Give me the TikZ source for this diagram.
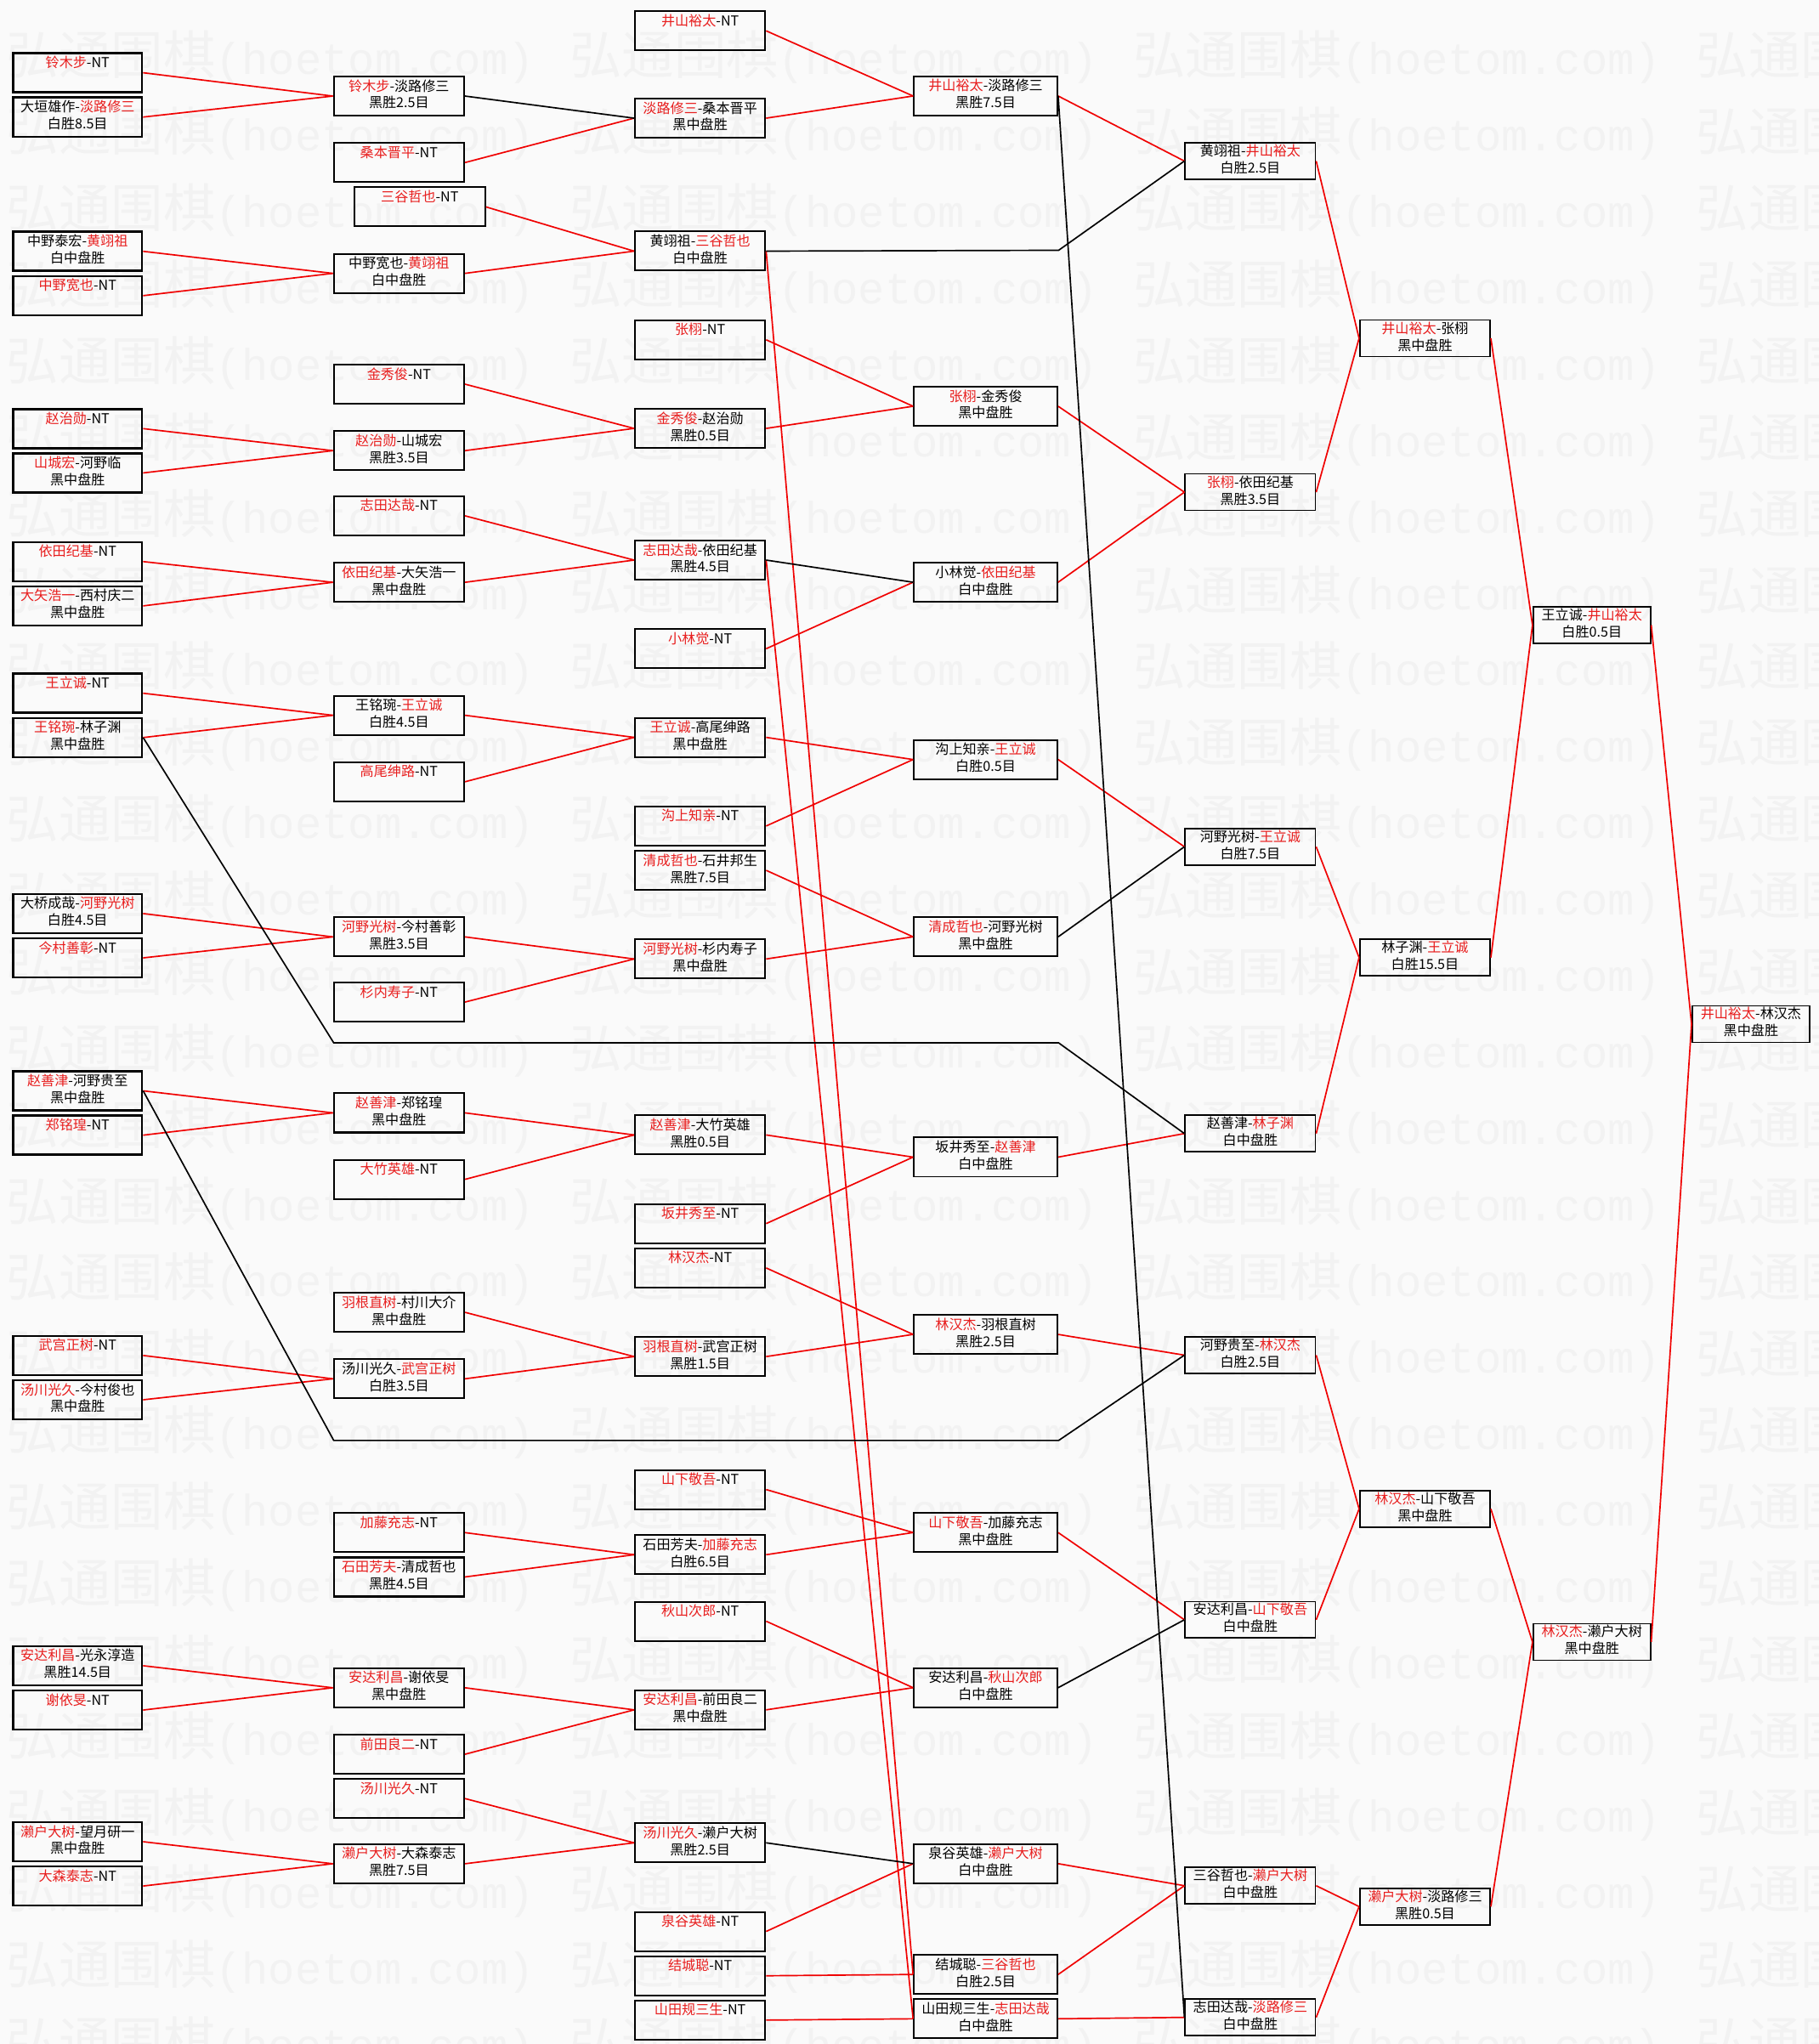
\documentclass[tikz,border=0pt]{standalone}
\usepackage{fontspec}
\setmainfont{Noto Sans CJK SC}
\newfontfamily\wmlatin{Liberation Mono}
\definecolor{bgc}{RGB}{250,250,250}
\definecolor{wred}{RGB}{232,30,30}
\definecolor{lred}{RGB}{240,0,0}
\definecolor{wmark}{RGB}{242,242,242}
\newcommand{\rn}[1]{\textcolor{wred}{#1}}
\newcommand{\tl}[2]{#1\strut\\#2\strut}
\tikzset{
  box/.style={draw, line width=1.2pt, inner sep=0pt, align=center, anchor=north,
    minimum height=30pt, font=\fontsize{10.5}{13}\selectfont},
  wa/.style={box, minimum width=99pt, line width=1.6pt},
  wb/.style={box, minimum width=100pt, line width=1.4pt},
  wc/.style={box, minimum width=100pt, line width=1.3pt},
  wd/.style={box, minimum width=110pt, line width=1.3pt},
  we/.style={box, minimum width=100pt, minimum height=28pt, line width=1.1pt},
  wg/.style={box, minimum width=90pt, minimum height=28pt, line width=1.1pt},
  rl/.style={draw=lred, line width=1.1pt},
  bl/.style={draw=black, line width=1.1pt},
  wm/.style={anchor=west, text=wmark, inner sep=0pt, font=\fontsize{40}{40}\selectfont}
}
\begin{document}
\begin{tikzpicture}[x=1pt,y=-1pt]
\fill[bgc] (0,0) rectangle (1395,1568);
\useasboundingbox (0,0) rectangle (1395,1568);
% watermark
\foreach \wr in {0,...,26}{
  \foreach \wc in {0,...,3}{
    \node[wm] (wm-\wr-\wc) at ({5+432*\wc},{44+58.6*\wr}) {弘通围棋{\wmlatin\fontsize{34}{34}\selectfont(hoetom.com)}};
  }
}
% column 1
\node[wa] (a1) at (59.5,40) {\tl{\rn{铃木步}-NT}{}};
\node[wa] (a2) at (59.5,74) {\tl{大垣雄作-\rn{淡路修三}}{白胜8.5目}};
\node[wa] (a3) at (59.5,177) {\tl{中野泰宏-\rn{黄翊祖}}{白中盘胜}};
\node[wa] (a4) at (59.5,211) {\tl{\rn{中野宽也}-NT}{}};
\node[wa] (a5) at (59.5,313) {\tl{\rn{赵治勋}-NT}{}};
\node[wa] (a6) at (59.5,347) {\tl{\rn{山城宏}-河野临}{黑中盘胜}};
\node[wa] (a7) at (59.5,415) {\tl{\rn{依田纪基}-NT}{}};
\node[wa] (a8) at (59.5,449) {\tl{\rn{大矢浩一}-西村庆二}{黑中盘胜}};
\node[wa] (a9) at (59.5,516) {\tl{\rn{王立诚}-NT}{}};
\node[wa] (a10) at (59.5,550) {\tl{\rn{王铭琬}-林子渊}{黑中盘胜}};
\node[wa] (a11) at (59.5,685) {\tl{大桥成哉-\rn{河野光树}}{白胜4.5目}};
\node[wa] (a12) at (59.5,719) {\tl{\rn{今村善彰}-NT}{}};
\node[wa] (a13) at (59.5,821) {\tl{\rn{赵善津}-河野贵至}{黑中盘胜}};
\node[wa] (a14) at (59.5,855) {\tl{\rn{郑铭瑝}-NT}{}};
\node[wa] (a15) at (59.5,1024) {\tl{\rn{武宫正树}-NT}{}};
\node[wa] (a16) at (59.5,1058) {\tl{\rn{汤川光久}-今村俊也}{黑中盘胜}};
\node[wa] (a17) at (59.5,1262) {\tl{\rn{安达利昌}-光永淳造}{黑胜14.5目}};
\node[wa] (a18) at (59.5,1296) {\tl{\rn{谢依旻}-NT}{}};
\node[wa] (a19) at (59.5,1397) {\tl{\rn{濑户大树}-望月研一}{黑中盘胜}};
\node[wa] (a20) at (59.5,1431) {\tl{\rn{大森泰志}-NT}{}};
% column 2
\node[wb] (b1) at (306,58) {\tl{\rn{铃木步}-淡路修三}{黑胜2.5目}};
\node[wb] (b2) at (306,109) {\tl{\rn{桑本晋平}-NT}{}};
\node[wb] (b3) at (322,143) {\tl{\rn{三谷哲也}-NT}{}};
\node[wb] (b4) at (306,194) {\tl{中野宽也-\rn{黄翊祖}}{白中盘胜}};
\node[wb] (b5) at (306,279) {\tl{\rn{金秀俊}-NT}{}};
\node[wb] (b6) at (306,330) {\tl{\rn{赵治勋}-山城宏}{黑胜3.5目}};
\node[wb] (b7) at (306,380) {\tl{\rn{志田达哉}-NT}{}};
\node[wb] (b8) at (306,431) {\tl{\rn{依田纪基}-大矢浩一}{黑中盘胜}};
\node[wb] (b9) at (306,533) {\tl{王铭琬-\rn{王立诚}}{白胜4.5目}};
\node[wb] (b10) at (306,584) {\tl{\rn{高尾绅路}-NT}{}};
\node[wb] (b11) at (306,703) {\tl{\rn{河野光树}-今村善彰}{黑胜3.5目}};
\node[wb] (b12) at (306,753) {\tl{\rn{杉内寿子}-NT}{}};
\node[wb] (b13) at (306,838) {\tl{\rn{赵善津}-郑铭瑝}{黑中盘胜}};
\node[wb] (b14) at (306,889) {\tl{\rn{大竹英雄}-NT}{}};
\node[wb] (b15) at (306,991) {\tl{\rn{羽根直树}-村川大介}{黑中盘胜}};
\node[wb] (b16) at (306,1042) {\tl{汤川光久-\rn{武宫正树}}{白胜3.5目}};
\node[wb] (b17) at (306,1160) {\tl{\rn{加藤充志}-NT}{}};
\node[wb] (b18) at (306,1194) {\tl{\rn{石田芳夫}-清成哲也}{黑胜4.5目}};
\node[wb] (b19) at (306,1279) {\tl{\rn{安达利昌}-谢依旻}{黑中盘胜}};
\node[wb] (b20) at (306,1330) {\tl{\rn{前田良二}-NT}{}};
\node[wb] (b21) at (306,1364) {\tl{\rn{汤川光久}-NT}{}};
\node[wb] (b22) at (306,1414) {\tl{\rn{濑户大树}-大森泰志}{黑胜7.5目}};
% column 3
\node[wc] (c1) at (537,8) {\tl{\rn{井山裕太}-NT}{}};
\node[wc] (c2) at (537,75) {\tl{\rn{淡路修三}-桑本晋平}{黑中盘胜}};
\node[wc] (c3) at (537,177) {\tl{黄翊祖-\rn{三谷哲也}}{白中盘胜}};
\node[wc] (c4) at (537,245) {\tl{\rn{张栩}-NT}{}};
\node[wc] (c5) at (537,313) {\tl{\rn{金秀俊}-赵治勋}{黑胜0.5目}};
\node[wc] (c6) at (537,414) {\tl{\rn{志田达哉}-依田纪基}{黑胜4.5目}};
\node[wc] (c7) at (537,482) {\tl{\rn{小林觉}-NT}{}};
\node[wc] (c8) at (537,550) {\tl{\rn{王立诚}-高尾绅路}{黑中盘胜}};
\node[wc] (c9) at (537,618) {\tl{\rn{沟上知亲}-NT}{}};
\node[wc] (c10) at (537,652) {\tl{\rn{清成哲也}-石井邦生}{黑胜7.5目}};
\node[wc] (c11) at (537,720) {\tl{\rn{河野光树}-杉内寿子}{黑中盘胜}};
\node[wc] (c12) at (537,855) {\tl{\rn{赵善津}-大竹英雄}{黑胜0.5目}};
\node[wc] (c13) at (537,923) {\tl{\rn{坂井秀至}-NT}{}};
\node[wc] (c14) at (537,957) {\tl{\rn{林汉杰}-NT}{}};
\node[wc] (c15) at (537,1025) {\tl{\rn{羽根直树}-武宫正树}{黑胜1.5目}};
\node[wc] (c16) at (537,1127) {\tl{\rn{山下敬吾}-NT}{}};
\node[wc] (c17) at (537,1177) {\tl{石田芳夫-\rn{加藤充志}}{白胜6.5目}};
\node[wc] (c18) at (537,1228) {\tl{\rn{秋山次郎}-NT}{}};
\node[wc] (c19) at (537,1296) {\tl{\rn{安达利昌}-前田良二}{黑中盘胜}};
\node[wc] (c20) at (537,1398) {\tl{\rn{汤川光久}-濑户大树}{黑胜2.5目}};
\node[wc] (c21) at (537,1466) {\tl{\rn{泉谷英雄}-NT}{}};
\node[wc] (c22) at (537,1500) {\tl{\rn{结城聪}-NT}{}};
\node[wc] (c23) at (537,1534) {\tl{\rn{山田规三生}-NT}{}};
% column 4
\node[wd] (d1) at (756,58) {\tl{\rn{井山裕太}-淡路修三}{黑胜7.5目}};
\node[wd] (d2) at (756,296) {\tl{\rn{张栩}-金秀俊}{黑中盘胜}};
\node[wd] (d3) at (756,431) {\tl{小林觉-\rn{依田纪基}}{白中盘胜}};
\node[wd] (d4) at (756,567) {\tl{沟上知亲-\rn{王立诚}}{白胜0.5目}};
\node[wd] (d5) at (756,703) {\tl{\rn{清成哲也}-河野光树}{黑中盘胜}};
\node[wd] (d6) at (756,872) {\tl{坂井秀至-\rn{赵善津}}{白中盘胜}};
\node[wd] (d7) at (756,1008) {\tl{\rn{林汉杰}-羽根直树}{黑胜2.5目}};
\node[wd] (d8) at (756,1160) {\tl{\rn{山下敬吾}-加藤充志}{黑中盘胜}};
\node[wd] (d9) at (756,1279) {\tl{安达利昌-\rn{秋山次郎}}{白中盘胜}};
\node[wd] (d10) at (756,1414) {\tl{泉谷英雄-\rn{濑户大树}}{白中盘胜}};
\node[wd] (d11) at (756,1499) {\tl{结城聪-\rn{三谷哲也}}{白胜2.5目}};
\node[wd] (d12) at (756,1533) {\tl{山田规三生-\rn{志田达哉}}{白中盘胜}};
% column 5
\node[we] (e1) at (959,109) {\tl{黄翊祖-\rn{井山裕太}}{白胜2.5目}};
\node[we] (e2) at (959,363) {\tl{\rn{张栩}-依田纪基}{黑胜3.5目}};
\node[we] (e3) at (959,635) {\tl{河野光树-\rn{王立诚}}{白胜7.5目}};
\node[we] (e4) at (959,855) {\tl{赵善津-\rn{林子渊}}{白中盘胜}};
\node[we] (e5) at (959,1025) {\tl{河野贵至-\rn{林汉杰}}{白胜2.5目}};
\node[we] (e6) at (959,1228) {\tl{安达利昌-\rn{山下敬吾}}{白中盘胜}};
\node[we] (e7) at (959,1432) {\tl{三谷哲也-\rn{濑户大树}}{白中盘胜}};
\node[we] (e8) at (959,1533) {\tl{志田达哉-\rn{淡路修三}}{白中盘胜}};
% column 6
\node[we] (f1) at (1093,245) {\tl{\rn{井山裕太}-张栩}{黑中盘胜}};
\node[we] (f2) at (1093,720) {\tl{林子渊-\rn{王立诚}}{白胜15.5目}};
\node[we] (f3) at (1093,1143) {\tl{\rn{林汉杰}-山下敬吾}{黑中盘胜}};
\node[we] (f4) at (1093,1448) {\tl{\rn{濑户大树}-淡路修三}{黑胜0.5目}};
% column 7
\node[wg] (g1) at (1221,465) {\tl{王立诚-\rn{井山裕太}}{白胜0.5目}};
\node[wg] (g2) at (1221,1245) {\tl{\rn{林汉杰}-濑户大树}{黑中盘胜}};
% column 8
\node[wg] (h1) at (1343,771) {\tl{\rn{井山裕太}-林汉杰}{黑中盘胜}};
% bend points
\coordinate (k1) at (812,192);
\coordinate (p1) at (256,800);
\coordinate (p2) at (812,800);
\coordinate (q1) at (256,1105);
\coordinate (q2) at (812,1105);
% col1 -> col2
\foreach \s/\t in {a1/b1,a2/b1,a3/b4,a4/b4,a5/b6,a6/b6,a7/b8,a8/b8,a9/b9,a10/b9,
  a11/b11,a12/b11,a13/b13,a14/b13,a15/b16,a16/b16,a17/b19,a18/b19,a19/b22,a20/b22}
  {\draw[rl] (\s.east) -- (\t.west);}
% col2 -> col3
\foreach \s/\t in {b2/c2,b3/c3,b4/c3,b5/c5,b6/c5,b7/c6,b8/c6,b9/c8,b10/c8,b11/c11,b12/c11,
  b13/c12,b14/c12,b15/c15,b16/c15,b17/c17,b18/c17,b19/c19,b20/c19,b21/c20,b22/c20}
  {\draw[rl] (\s.east) -- (\t.west);}
\draw[bl] (b1.east) -- (c2.west);
% col3 -> col4
\foreach \s/\t in {c1/d1,c2/d1,c4/d2,c5/d2,c7/d3,c8/d4,c9/d4,c10/d5,c11/d5,c12/d6,c13/d6,
  c14/d7,c15/d7,c16/d8,c17/d8,c18/d9,c19/d9,c21/d10,c22/d11,c23/d12,c3/d11,c6/d12}
  {\draw[rl] (\s.east) -- (\t.west);}
\draw[bl] (c6.east) -- (d3.west);
\draw[bl] (c20.east) -- (d10.west);
% col4 -> col5
\foreach \s/\t in {d1/e1,d2/e2,d3/e2,d4/e3,d6/e4,d7/e5,d8/e6,d10/e7,d11/e7,d12/e8}
  {\draw[rl] (\s.east) -- (\t.west);}
\draw[bl] (d5.east) -- (e3.west);
\draw[bl] (d9.east) -- (e6.west);
\draw[bl] (d1.east) -- (e8.west);
\draw[bl] (c3.east) -- (k1) -- (e1.west);
\draw[bl] (a10.east) -- (p1) -- (p2) -- (e4.west);
\draw[bl] (a13.east) -- (q1) -- (q2) -- (e5.west);
% col5 -> col8
\foreach \s/\t in {e1/f1,e2/f1,e3/f2,e4/f2,e5/f3,e6/f3,e7/f4,e8/f4,f1/g1,f2/g1,f3/g2,f4/g2,g1/h1,g2/h1}
  {\draw[rl] (\s.east) -- (\t.west);}
\end{tikzpicture}
\end{document}
